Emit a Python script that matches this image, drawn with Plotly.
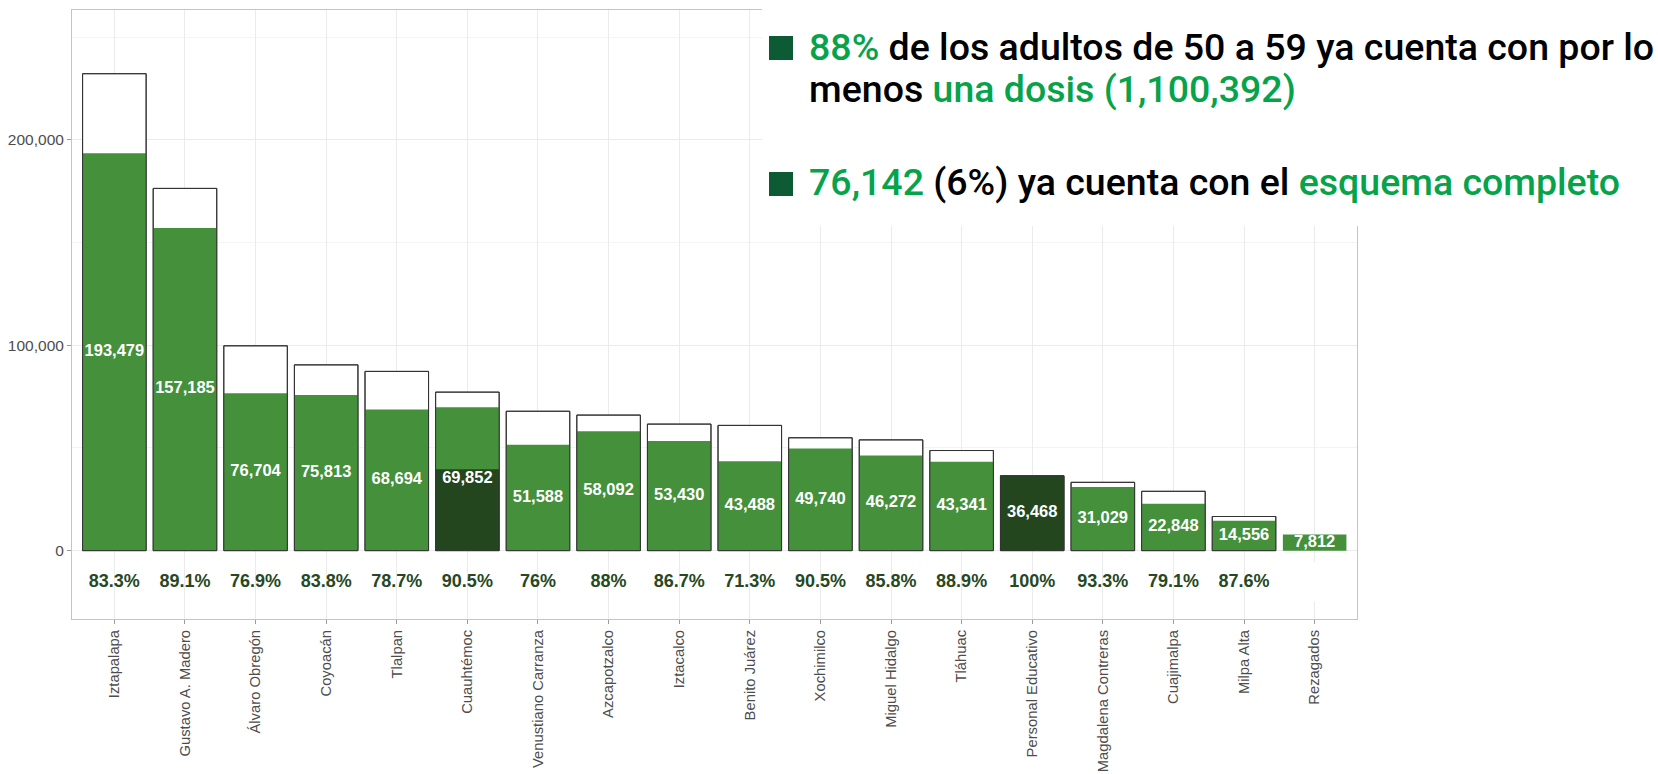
import plotly.graph_objects as go

categorias = ["Iztapalapa", "Gustavo A. Madero", "Álvaro Obregón", "Coyoacán", "Tlalpan",
              "Cuauhtémoc", "Venustiano Carranza", "Azcapotzalco", "Iztacalco", "Benito Juárez",
              "Xochimilco", "Miguel Hidalgo", "Tláhuac", "Personal Educativo",
              "Magdalena Contreras", "Cuajimalpa", "Milpa Alta", "Rezagados"]
primera_dosis = [193479, 157185, 76704, 75813, 68694, 69852, 51588, 58092, 53430, 43488,
                 49740, 46272, 43341, 36468, 31029, 22848, 14556, 7812]
poblacion = [232270, 176410, 99750, 90470, 87290, 77190, 67880, 66010, 61620, 60990,
             54960, 53930, 48750, 36468, 33260, 28890, 16620, None]
esquema_completo = [None, None, None, None, None, 39674, None, None, None, None,
                    None, None, None, 36468, None, None, None, None]
porcentaje = ["83.3%", "89.1%", "76.9%", "83.8%", "78.7%", "90.5%", "76%", "88%", "86.7%",
              "71.3%", "90.5%", "85.8%", "88.9%", "100%", "93.3%", "79.1%", "87.6%", ""]
y_ticks = [0, 100000, 200000]
y_tick_text = ["0", "100,000", "200,000"]

W, H = 1658, 774
L, R, T, B = 72, 1357, 10, 619
def px(x): return (x - L) / (R - L)
def py(y): return (B - y) / (B - T)

GREEN = "#44903b"
DARK = "#23461f"
LBL = "#264822"

fig = go.Figure()
fig.add_trace(go.Bar(x=categorias, y=poblacion, width=0.9, marker=dict(color="white", line=dict(color="#333333", width=1)),
                     hoverinfo="skip"))
fig.add_trace(go.Bar(x=categorias, y=primera_dosis, width=0.9, marker=dict(color=GREEN, line=dict(width=0))))
fig.add_trace(go.Bar(x=categorias, y=esquema_completo, width=0.9, marker=dict(color=DARK, line=dict(width=0))))
fig.add_trace(go.Bar(x=categorias, y=poblacion, width=0.9,
                     marker=dict(color="rgba(0,0,0,0)", line=dict(color="#333333", width=1)), hoverinfo="skip"))
fig.add_trace(go.Scatter(x=categorias, y=[v / 2 for v in primera_dosis], mode="text",
                         text=[f"{v:,}" for v in primera_dosis],
                         textfont=dict(family="Liberation Sans", size=16.5, color="white", weight="bold")))
fig.add_trace(go.Scatter(x=categorias, y=[-15300] * len(categorias), mode="text", text=porcentaje,
                         textfont=dict(family="Liberation Sans", size=18, color=LBL, weight="bold")))

fig.update_layout(
    width=W, height=H, barmode="overlay", showlegend=False,
    plot_bgcolor="white", paper_bgcolor="white",
    margin=dict(l=L, r=W - R, t=T, b=H - B, pad=0, autoexpand=False),
    font=dict(family="Liberation Sans", color="#4d4d4d"),
)
fig.update_xaxes(range=[-0.6, 17.6], showgrid=True, gridcolor="#ebebeb", gridwidth=1,
                 showline=True, linecolor="#c4c4c4", linewidth=1, mirror=True,
                 ticks="outside", ticklen=4, tickcolor="#9a9a9a", tickangle=-90,
                 ticklabelstandoff=0, automargin=False,
                 tickfont=dict(size=14.8, color="#4d4d4d"))
fig.update_yaxes(range=[-33300, 263300], tickvals=y_ticks, ticktext=y_tick_text,
                 showgrid=True, gridcolor="#ebebeb", gridwidth=1, zeroline=False,
                 minor=dict(dtick=50000, tick0=0, showgrid=True, gridcolor="#f4f4f4", gridwidth=0.6),
                 showline=True, linecolor="#c4c4c4", linewidth=1, mirror=True,
                 ticks="outside", ticklen=4, tickcolor="#9a9a9a", automargin=False,
                 tickfont=dict(size=15.5, color="#4d4d4d"))

# white text box covering the top-right region
fig.add_shape(type="rect", xref="paper", yref="paper", x0=px(762), x1=px(1670), y0=py(226), y1=py(-5),
              fillcolor="white", line=dict(width=0), layer="above")
for y0, y1 in [(36, 60), (172, 196)]:
    fig.add_shape(type="rect", xref="paper", yref="paper", x0=px(769), x1=px(793), y0=py(y1), y1=py(y0),
                  fillcolor="#0c5b35", line=dict(width=0), layer="above")

G = "#07a34b"
tf = dict(family="Roboto", size=37.5, color="black", weight=500)
lines = [
    (47, f"<span style='color:{G}'>88%</span> de los adultos de 50 a 59 ya cuenta con por lo"),
    (89, f"menos <span style='color:{G}'>una dosis (1,100,392)</span>"),
    (182, f"<span style='color:{G}'>76,142</span> (6%) ya cuenta con el <span style='color:{G}'>esquema completo</span>"),
]
for yc, txt in lines:
    fig.add_annotation(xref="paper", yref="paper", x=px(807), y=py(yc), xanchor="left", yanchor="middle",
                       text=txt, showarrow=False, font=tf, align="left")

fig.add_annotation(x="Rezagados", y=-15300, text=" ", showarrow=False, bgcolor="white", width=22, height=36)

fig.write_html("out.html", config={"displayModeBar": False},
               post_script="document.body.style.margin='0';")
